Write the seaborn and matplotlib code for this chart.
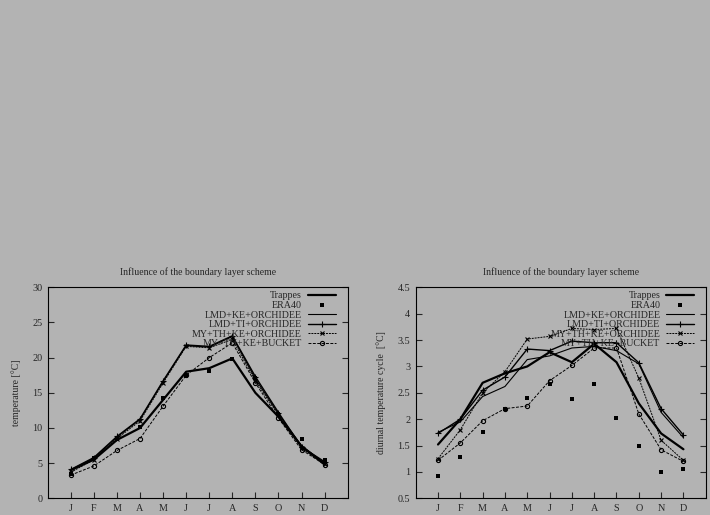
import numpy as np
import pandas as pd
import matplotlib
matplotlib.use("Agg")
import matplotlib.pyplot as plt
from matplotlib.ticker import FuncFormatter
import seaborn as sns

# months
months = ["J", "F", "M", "A", "M", "J", "J", "A", "S", "O", "N", "D"]
month_num = list(range(1, 13))

# monthly mean temperature [°C]
trappes_t = [4.0, 5.5, 8.3, 10.0, 14.0, 18.0, 18.5, 19.9, 15.0, 11.6, 7.4, 4.8]
era40_t = [3.4, 5.7, 8.4, 10.1, 14.2, 17.4, 18.1, 19.8, 17.1, 12.0, 8.5, 5.4]
lmd_ke_t = [4.0, 5.7, 8.7, 11.2, 16.6, 21.7, 21.5, 23.0, 17.0, 12.0, 7.5, 5.0]
lmd_ti_t = [4.1, 5.8, 8.8, 11.3, 16.7, 21.8, 21.6, 23.1, 17.3, 12.2, 7.3, 5.2]
my_ke_t = [3.7, 5.5, 8.5, 11.0, 16.4, 21.6, 21.4, 22.6, 16.7, 11.8, 7.1, 4.9]
bucket_t = [3.3, 4.6, 6.8, 8.5, 13.1, 17.5, 20.0, 22.1, 16.4, 11.4, 6.9, 4.8]

# diurnal temperature cycle [°C]
trappes_d = [1.52, 2.0, 2.69, 2.87, 3.0, 3.27, 3.08, 3.43, 3.08, 2.3, 1.73, 1.43]
era40_d = [0.93, 1.28, 1.76, 2.2, 2.41, 2.67, 2.38, 2.66, 2.02, 1.49, 0.99, 1.05]
lmd_ke_d = [1.75, 1.95, 2.43, 2.62, 3.13, 3.2, 3.35, 3.38, 3.3, 3.05, 2.13, 1.65]
lmd_ti_d = [1.73, 2.0, 2.55, 2.8, 3.33, 3.3, 3.48, 3.45, 3.45, 3.07, 2.2, 1.7]
my_ke_d = [1.25, 1.8, 2.5, 2.9, 3.52, 3.57, 3.72, 3.7, 3.72, 2.78, 1.6, 1.22]
bucket_d = [1.22, 1.55, 1.97, 2.2, 2.25, 2.73, 3.02, 3.35, 3.35, 2.1, 1.42, 1.2]

labels = ["Trappes", "ERA40", "LMD+KE+ORCHIDEE", "LMD+TI+ORCHIDEE",
          "MY+TH+KE+ORCHIDEE", "MY+TH+KE+BUCKET"]

bg = "#b3b3b3"
sns.set_theme(style="ticks")
plt.rcParams["font.family"] = ["Liberation Serif", "DejaVu Serif"]
plt.rcParams["figure.facecolor"] = bg
plt.rcParams["axes.facecolor"] = bg
plt.rcParams["savefig.facecolor"] = bg

fig = plt.figure(figsize=(7.1, 5.15), dpi=100)
ax1 = fig.add_axes([0.0672, 0.0324, 0.4225, 0.4097])
ax2 = fig.add_axes([0.5855, 0.0324, 0.4085, 0.4097])


def draw(ax, series, anchor_x):
    trappes, era40, lmd_ke, lmd_ti, my_ke, bucket = series
    k = dict(x=month_num, color="black", ax=ax, markeredgecolor="black")
    sns.lineplot(y=trappes, label=labels[0], lw=1.6, **k)
    sns.scatterplot(x=month_num, y=era40, label=labels[1], marker="s", s=9,
                    color="black", edgecolor="black", linewidth=0, ax=ax)
    sns.lineplot(y=lmd_ke, label=labels[2], lw=0.8, **k)
    sns.lineplot(y=lmd_ti, label=labels[3], lw=1.0, marker="+", markersize=5,
                 markeredgewidth=0.8, **k)
    sns.lineplot(y=my_ke, label=labels[4], lw=0.7, ls=(0, (2, 1)), marker="x",
                 markersize=3.5, markeredgewidth=0.8, **k)
    sns.lineplot(y=bucket, label=labels[5], lw=0.7, ls=(0, (3, 1.5)), marker="o",
                 markersize=3, markerfacecolor="none", markeredgewidth=0.8, **k)

    ax.set_xlim(0, 13)
    ax.set_xticks(month_num)
    ax.set_xticklabels(months)
    ax.tick_params(direction="in", length=4, width=0.8, labelsize=7.3,
                   top=True, right=True, pad=4)
    ax.tick_params(axis="x", top=False)
    for s in ax.spines.values():
        s.set_linewidth(0.8)
        s.set_color("black")
    ax.set_xlabel("")
    ax.set_title("Influence of the boundary layer scheme", fontsize=7, pad=9)
    leg = ax.legend(loc="upper right", bbox_to_anchor=(anchor_x, 1.014),
                    markerfirst=False, frameon=False,
                    fontsize=7.2, handlelength=2.8, labelspacing=0.06,
                    handletextpad=0.6, borderaxespad=0.3)
    return leg


draw(ax1, [trappes_t, era40_t, lmd_ke_t, lmd_ti_t, my_ke_t, bucket_t], 0.983)
ax1.set_ylim(0, 30)
ax1.set_yticks(range(0, 31, 5))
ax1.set_ylabel("temperature [°C]", fontsize=7, labelpad=8)

draw(ax2, [trappes_d, era40_d, lmd_ke_d, lmd_ti_d, my_ke_d, bucket_d], 0.985)
ax2.set_ylim(0.5, 4.5)
ax2.set_yticks(np.arange(0.5, 4.51, 0.5))
ax2.yaxis.set_major_formatter(FuncFormatter(lambda v, p: "%g" % v))
ax2.set_ylabel("diurnal temperature cycle  [°C]", fontsize=7, labelpad=8)

fig.savefig("out.png", dpi=100, facecolor=bg)
